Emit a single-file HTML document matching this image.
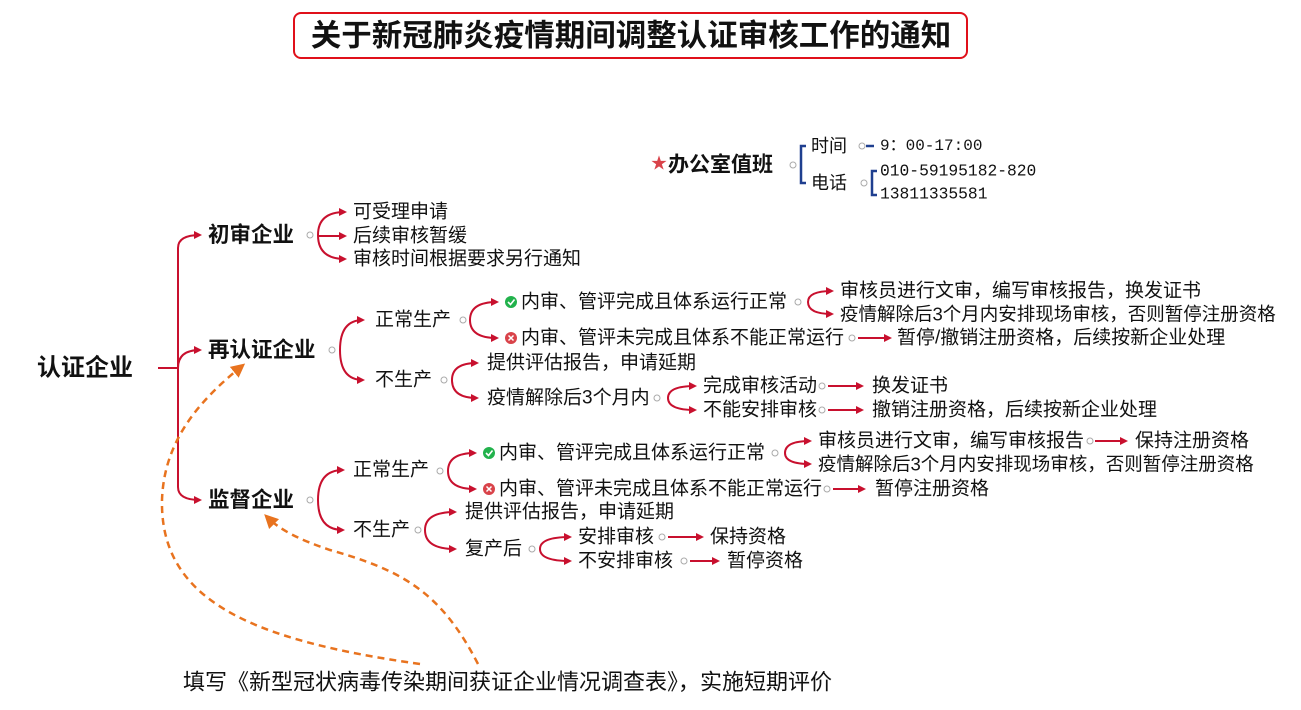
<!DOCTYPE html>
<html><head><meta charset="utf-8"><style>
html,body{margin:0;padding:0;background:#fff;}
svg{display:block}
text{font-family:"Liberation Sans","Noto Sans CJK SC",sans-serif;fill:#111;dominant-baseline:central}
.b{font-weight:bold}
.r{fill:none;stroke:#c8102e;stroke-width:2}
.bl{fill:none;stroke:#1f3f8f;stroke-width:2.5}
.c{fill:#fff;stroke:#aaa;stroke-width:1}
.m{font-family:"Liberation Mono","Noto Sans CJK SC",monospace}
</style></head><body>
<svg width="1301" height="710" viewBox="0 0 1301 710">
<defs>
<marker id="a" markerWidth="8" markerHeight="8" refX="6" refY="4" orient="auto" markerUnits="userSpaceOnUse"><path d="M0,0 L8,4 L0,8 z" fill="#c8102e"/></marker>
<marker id="o" markerWidth="16" markerHeight="16" refX="10" refY="8" orient="auto" markerUnits="userSpaceOnUse"><path d="M0,1 L14,8 L0,15 z" fill="#e8731f"/></marker>
</defs>
<rect x="294" y="13" width="673" height="45" rx="7" fill="#fff" stroke="#e0101a" stroke-width="2"/>
<text x="631" y="36" text-anchor="middle" class="b" style="font-size:30.5px">关于新冠肺炎疫情期间调整认证审核工作的通知</text>

<!-- root -->
<text x="37" y="368" class="b" style="font-size:24px">认证企业</text>
<path class="r" d="M158,368 L178,368"/>
<path class="r" marker-end="url(#a)" d="M178,368 L178,248 Q178,235 200,235"/>
<path class="r" marker-end="url(#a)" d="M178,368 Q178,350 200,350"/>
<path class="r" marker-end="url(#a)" d="M178,368 L178,487 Q178,500 200,500"/>

<text x="208" y="235" class="b" style="font-size:21.5px">初审企业</text>
<text x="208" y="350" class="b" style="font-size:21.5px">再认证企业</text>
<text x="208" y="500" class="b" style="font-size:21.5px">监督企业</text>

<g style="font-size:19px">
<!-- 初审 -->
<circle class="c" cx="310" cy="235" r="3"/>
<path class="r" marker-end="url(#a)" d="M318,235 Q318,212 345,212"/>
<path class="r" marker-end="url(#a)" d="M318,236 L345,236"/>
<path class="r" marker-end="url(#a)" d="M318,235 Q318,259 345,259"/>
<text x="353" y="212">可受理申请</text>
<text x="353" y="236">后续审核暂缓</text>
<text x="353" y="259">审核时间根据要求另行通知</text>

<!-- 再认证 -->
<circle class="c" cx="332" cy="350" r="3"/>
<path class="r" marker-end="url(#a)" d="M340,350 Q340,320 363,320"/>
<path class="r" marker-end="url(#a)" d="M340,350 Q340,380 363,380"/>
<text x="375" y="320">正常生产</text>
<text x="375" y="380">不生产</text>
<circle class="c" cx="463" cy="320" r="3"/>
<path class="r" marker-end="url(#a)" d="M470,320 Q470,302 497,302"/>
<path class="r" marker-end="url(#a)" d="M470,320 Q470,338 497,338"/>
<circle cx="511" cy="302" r="6" fill="#22b24c"/><path d="M508,302 L510.5,304.5 L514.5,299.5" stroke="#fff" stroke-width="1.6" fill="none"/>
<text x="521" y="302">内审、管评完成且体系运行正常</text>
<circle cx="511" cy="338" r="6" fill="#d9434a"/><path d="M508.5,335.5 L513.5,340.5 M513.5,335.5 L508.5,340.5" stroke="#fff" stroke-width="1.5"/>
<text x="521" y="338">内审、管评未完成且体系不能正常运行</text>
<circle class="c" cx="798" cy="302" r="3"/>
<path class="r" marker-end="url(#a)" d="M808,302 Q808,291 832,291"/>
<path class="r" marker-end="url(#a)" d="M808,302 Q808,314 832,314"/>
<text x="840" y="291">审核员进行文审，编写审核报告，换发证书</text>
<text x="840" y="314" style="font-size:18.5px">疫情解除后3个月内安排现场审核，否则暂停注册资格</text>
<circle class="c" cx="852" cy="338" r="3"/>
<path class="r" marker-end="url(#a)" d="M858,338 L890,338"/>
<text x="897" y="338">暂停/撤销注册资格，后续按新企业处理</text>

<circle class="c" cx="444" cy="380" r="3"/>
<path class="r" marker-end="url(#a)" d="M452,380 Q452,363 477,363"/>
<path class="r" marker-end="url(#a)" d="M452,380 Q452,398 477,398"/>
<text x="487" y="363">提供评估报告，申请延期</text>
<text x="487" y="398">疫情解除后3个月内</text>
<circle class="c" cx="657" cy="398" r="3"/>
<path class="r" marker-end="url(#a)" d="M668,398 Q668,386 695,386"/>
<path class="r" marker-end="url(#a)" d="M668,398 Q668,410 695,410"/>
<text x="703" y="386">完成审核活动</text>
<text x="703" y="410">不能安排审核</text>
<circle class="c" cx="822" cy="386" r="3"/><path class="r" marker-end="url(#a)" d="M828,386 L862,386"/>
<circle class="c" cx="822" cy="410" r="3"/><path class="r" marker-end="url(#a)" d="M828,410 L862,410"/>
<text x="872" y="386">换发证书</text>
<text x="872" y="410">撤销注册资格，后续按新企业处理</text>

<!-- 监督 -->
<circle class="c" cx="310" cy="500" r="3"/>
<path class="r" marker-end="url(#a)" d="M318,500 Q318,470 343,470"/>
<path class="r" marker-end="url(#a)" d="M318,500 Q318,530 343,530"/>
<text x="353" y="470">正常生产</text>
<text x="353" y="530">不生产</text>
<circle class="c" cx="440" cy="471" r="3"/>
<path class="r" marker-end="url(#a)" d="M448,471 Q448,453 475,453"/>
<path class="r" marker-end="url(#a)" d="M448,471 Q448,489 475,489"/>
<circle cx="489" cy="453" r="6" fill="#22b24c"/><path d="M486,453 L488.5,455.5 L492.5,450.5" stroke="#fff" stroke-width="1.6" fill="none"/>
<text x="499" y="453">内审、管评完成且体系运行正常</text>
<circle cx="489" cy="489" r="6" fill="#d9434a"/><path d="M486.5,486.5 L491.5,491.5 M491.5,486.5 L486.5,491.5" stroke="#fff" stroke-width="1.5"/>
<text x="499" y="489">内审、管评未完成且体系不能正常运行</text>
<circle class="c" cx="775" cy="453" r="3"/>
<path class="r" marker-end="url(#a)" d="M785,453 Q785,441 810,441"/>
<path class="r" marker-end="url(#a)" d="M785,453 Q785,464 810,464"/>
<text x="818" y="441">审核员进行文审，编写审核报告</text>
<text x="818" y="464" style="font-size:18.5px">疫情解除后3个月内安排现场审核，否则暂停注册资格</text>
<circle class="c" cx="1090" cy="441" r="3"/><path class="r" marker-end="url(#a)" d="M1095,441 L1126,441"/>
<text x="1135" y="441">保持注册资格</text>
<circle class="c" cx="827" cy="489" r="3"/><path class="r" marker-end="url(#a)" d="M833,489 L864,489"/>
<text x="875" y="489">暂停注册资格</text>

<circle class="c" cx="418" cy="530" r="3"/>
<path class="r" marker-end="url(#a)" d="M425,530 Q425,512 455,512"/>
<path class="r" marker-end="url(#a)" d="M425,530 Q425,549 455,549"/>
<text x="465" y="512">提供评估报告，申请延期</text>
<text x="465" y="549">复产后</text>
<circle class="c" cx="532" cy="549" r="3"/>
<path class="r" marker-end="url(#a)" d="M540,549 Q540,537 570,537"/>
<path class="r" marker-end="url(#a)" d="M540,549 Q540,561 570,561"/>
<text x="578" y="537">安排审核</text>
<text x="578" y="561">不安排审核</text>
<circle class="c" cx="662" cy="537" r="3"/><path class="r" marker-end="url(#a)" d="M668,537 L702,537"/>
<circle class="c" cx="684" cy="561" r="3"/><path class="r" marker-end="url(#a)" d="M690,561 L718,561"/>
<text x="710" y="537">保持资格</text>
<text x="727" y="561">暂停资格</text>
</g>

<!-- office -->
<text x="651" y="164" style="font-size:16px;fill:#d9434a">★</text>
<text x="668" y="165" class="b" style="font-size:21px">办公室值班</text>
<circle class="c" cx="793" cy="165" r="3"/>
<path class="bl" d="M806,146 L801,146 L801,183 L806,183"/>
<g style="font-size:18px">
<text x="811" y="146">时间</text>
<text x="811" y="183">电话</text>
<circle class="c" cx="862" cy="146" r="3"/><path class="bl" d="M866,146 L874,146"/>
<text x="880" y="146" class="m" style="font-size:16px">9：00-17:00</text>
<circle class="c" cx="864" cy="183" r="3"/>
<path class="bl" d="M877,171 L872,171 L872,195 L877,195"/>
<text x="880" y="171" class="m" style="font-size:16.3px">010-59195182-820</text>
<text x="880" y="194" class="m" style="font-size:16.3px">13811335581</text>
</g>

<!-- orange -->
<path d="M420,664 C250,640 160,600 162,500 C164,440 200,400 242,366" fill="none" stroke="#e8731f" stroke-width="2.5" stroke-dasharray="7,5" marker-end="url(#o)"/>
<path d="M478,664 C440,590 400,570 330,550 C300,540 280,530 267,517" fill="none" stroke="#e8731f" stroke-width="2.5" stroke-dasharray="7,5" marker-end="url(#o)"/>

<text x="183" y="682" style="font-size:22px">填写《新型冠状病毒传染期间获证企业情况调查表》，实施短期评价</text>
</svg>
</body></html>
